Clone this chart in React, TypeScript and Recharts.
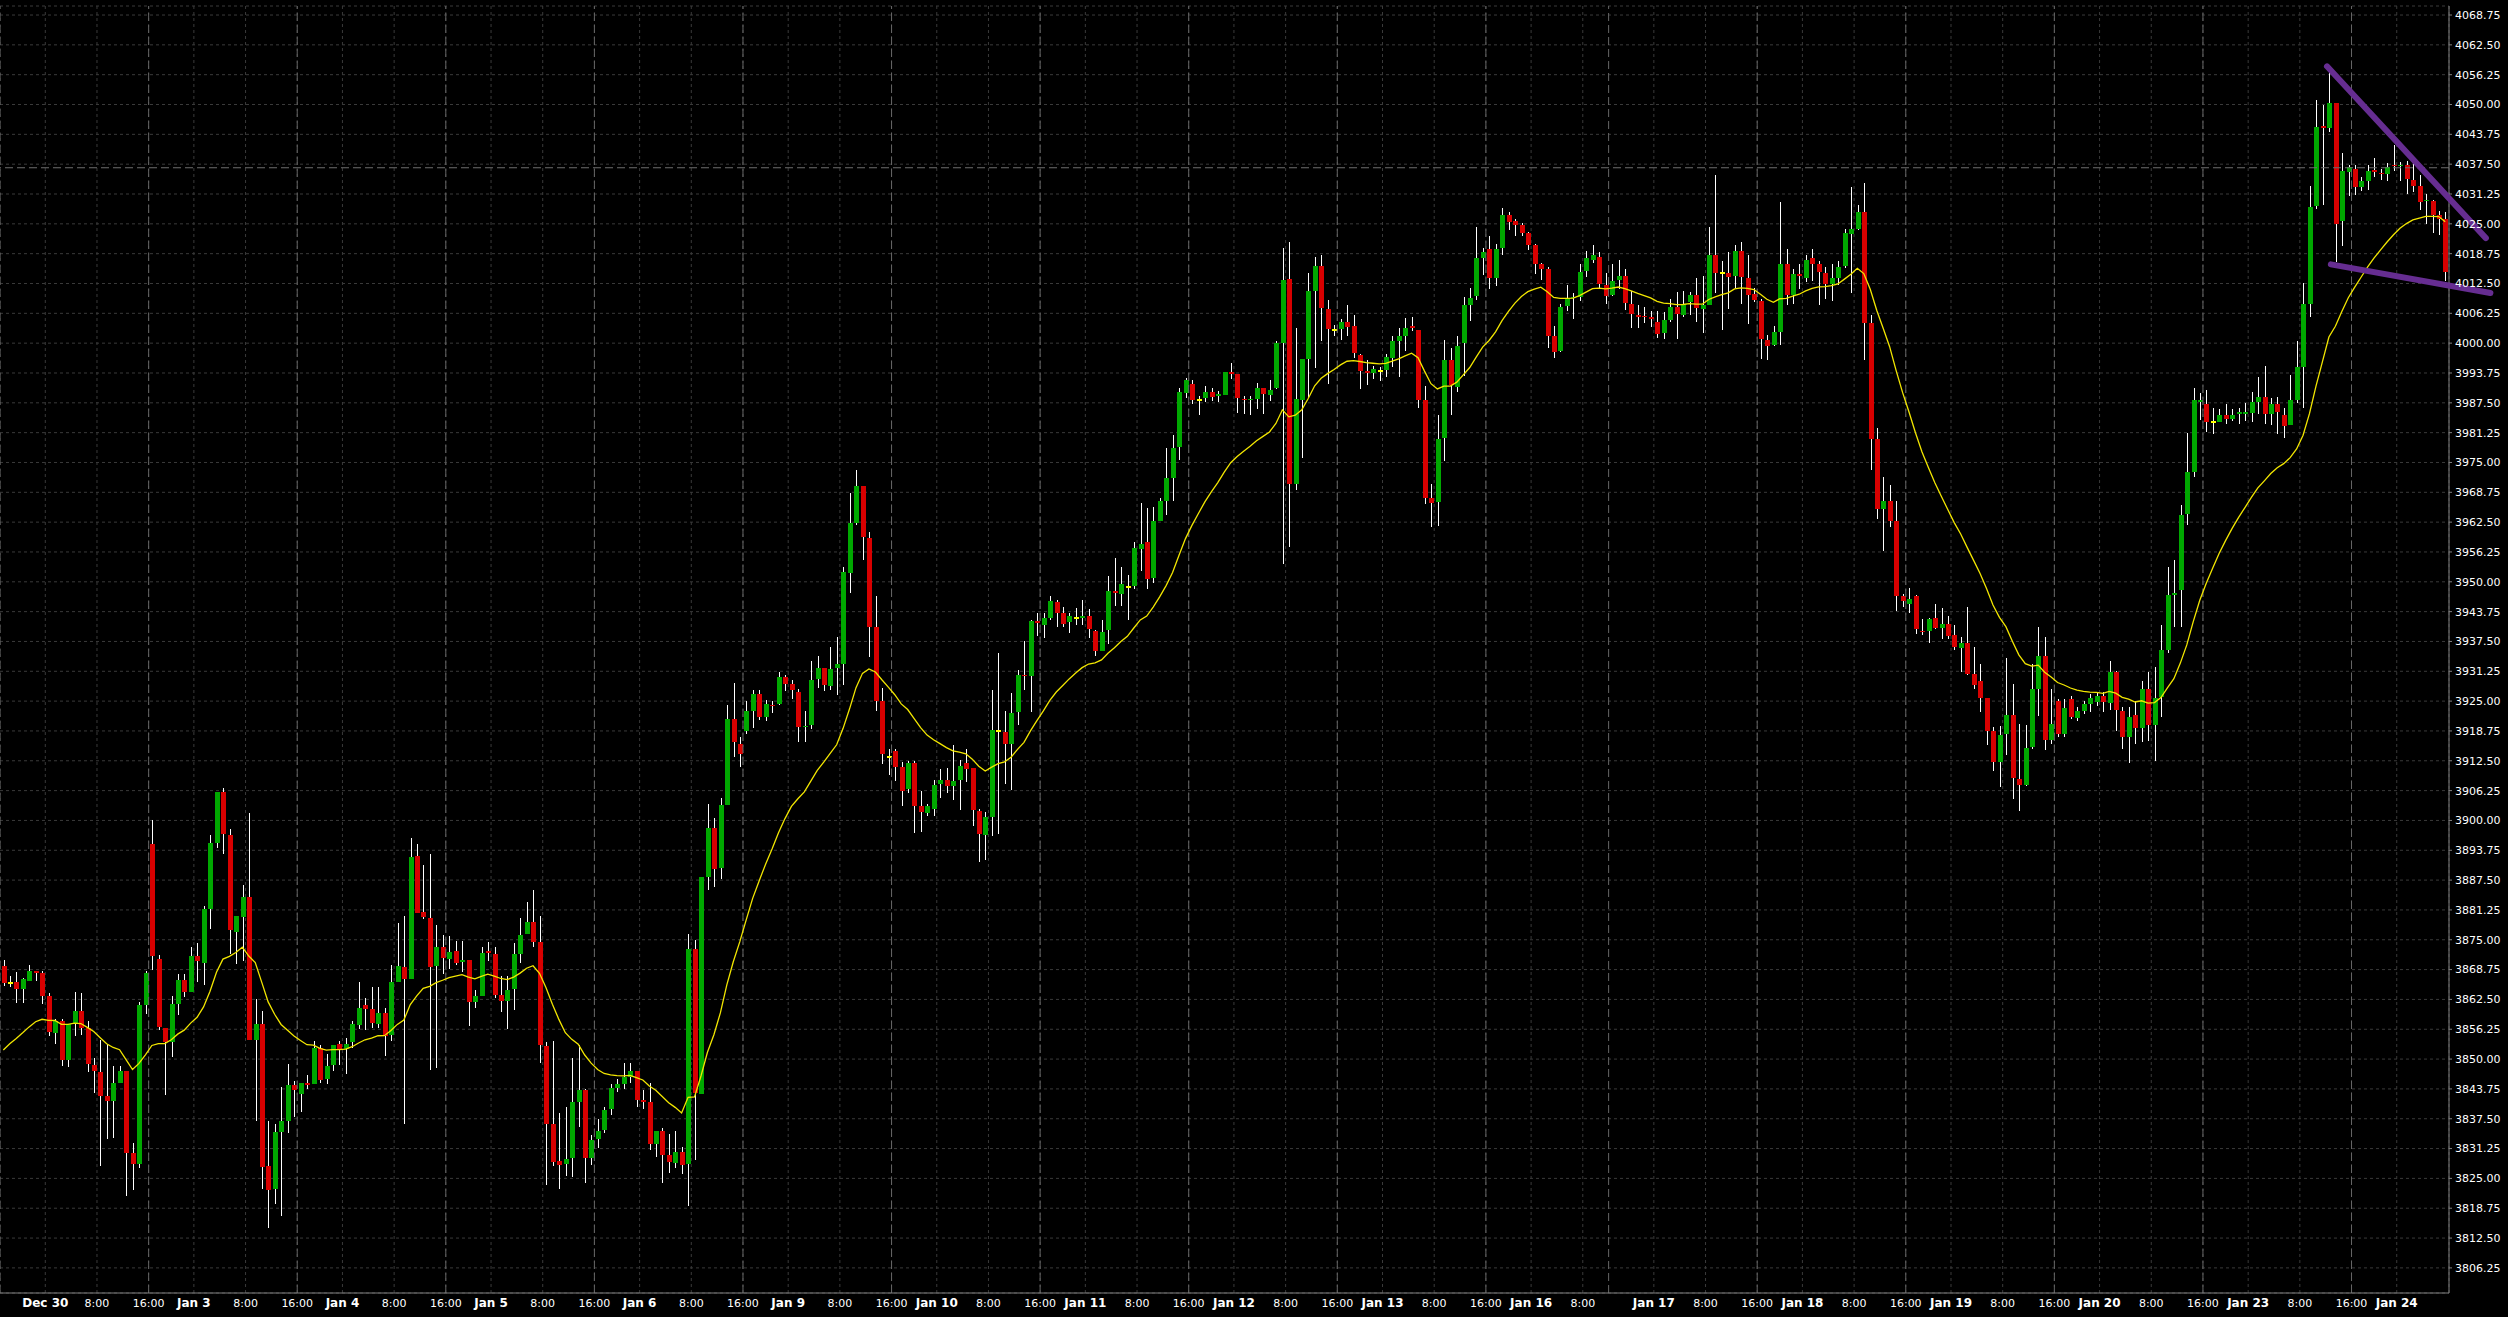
import { ComposedChart, Bar, Line, XAxis, YAxis, CartesianGrid, ReferenceLine } from "recharts";

// hourly bars, Dec 29 16:00 .. Jan 24 07:00 (379 bars)
const opens = [
  3869.5, 3866.0, 3866.25, 3864.75, 3866.5, 3868.5, 3868.0, 3863.25, 3855.5, 3858.0,
  3849.75, 3857.5, 3860.0, 3856.5, 3848.75, 3847.25, 3842.25, 3841.25, 3845.0, 3847.5,
  3830.25, 3828.0, 3861.25, 3895.0, 3871.0, 3856.5, 3853.5, 3861.5, 3866.5, 3864.0,
  3871.5, 3870.25, 3881.5, 3895.25, 3906.0, 3897.0, 3876.75, 3879.75, 3884.0, 3854.0,
  3857.25, 3827.5, 3822.75, 3834.75, 3837.0, 3844.5, 3842.75, 3845.0, 3844.75, 3852.25,
  3845.75, 3848.75, 3853.25, 3852.25, 3853.5, 3857.25, 3861.25, 3860.5, 3857.5, 3859.75,
  3855.25, 3866.25, 3869.25, 3866.75, 3892.5, 3880.75, 3879.5, 3869.5, 3873.5, 3871.0,
  3872.75, 3870.25, 3870.75, 3862.0, 3863.25, 3872.75, 3872.0, 3863.5, 3862.25, 3864.75,
  3872.0, 3876.25, 3878.75, 3874.5, 3852.75, 3836.5, 3828.75, 3828.0, 3829.25, 3841.0,
  3843.5, 3829.25, 3833.25, 3835.0, 3839.5, 3844.0, 3844.75, 3846.25, 3847.5, 3841.5,
  3841.0, 3832.25, 3835.0, 3830.0, 3828.25, 3830.5, 3828.0, 3873.0, 3842.75, 3888.25,
  3898.5, 3890.0, 3903.25, 3921.25, 3916.0, 3918.75, 3923.0, 3926.5, 3921.75, 3924.25,
  3924.25, 3930.0, 3928.5, 3927.0, 3919.5, 3920.0, 3929.75, 3932.0, 3928.25, 3932.0,
  3932.75, 3951.75, 3962.25, 3970.0, 3959.25, 3940.5, 3925.0, 3913.25, 3914.5, 3911.25,
  3906.5, 3912.0, 3903.0, 3901.5, 3902.5, 3907.75, 3908.5, 3907.25, 3908.5, 3912.0,
  3911.0, 3902.0, 3897.0, 3900.75, 3918.75, 3918.5, 3916.0, 3922.75, 3930.5, 3930.25,
  3941.75, 3941.0, 3942.5, 3945.75, 3943.5, 3941.5, 3942.5, 3942.25, 3942.75, 3939.75,
  3935.5, 3939.75, 3948.0, 3947.5, 3949.0, 3949.0, 3957.0, 3958.25, 3950.75, 3962.75,
  3967.0, 3971.75, 3978.25, 3989.5, 3991.5, 3988.0, 3988.5, 3989.75, 3988.75, 3989.25,
  3994.0, 3993.5, 3988.25, 3988.0, 3988.25, 3990.5, 3989.25, 3990.5, 4000.0, 4013.5,
  3970.5, 3988.25, 3996.75, 4011.0, 4016.25, 4007.25, 4002.75, 4003.0, 4004.5, 4003.5,
  3997.5, 3994.25, 3993.75, 3994.25, 3994.25, 3997.0, 4000.5, 4001.5, 4003.5, 4002.75,
  3988.0, 3967.5, 3966.75, 3980.25, 3996.5, 3991.0, 4000.0, 4008.0, 4009.75, 4017.75,
  4019.75, 4013.75, 4019.75, 4026.75, 4025.5, 4024.75, 4023.0, 4020.5, 4016.5, 4015.5,
  4001.5, 3998.25, 4007.75, 4009.5, 4009.75, 4015.0, 4017.5, 4018.0, 4012.25, 4010.0,
  4013.25, 4014.0, 4008.25, 4006.0, 4005.75, 4005.5, 4004.5, 4002.0, 4004.75, 4007.5,
  4006.0, 4008.5, 4010.0, 4007.25, 4008.0, 4018.5, 4014.75, 4014.75, 4014.0, 4019.25,
  4013.75, 4010.25, 4008.75, 4000.75, 3999.5, 4002.25, 4016.5, 4010.0, 4014.5, 4013.75,
  4017.75, 4016.5, 4014.75, 4012.5, 4013.75, 4016.0, 4023.0, 4024.0, 4027.5, 4004.25,
  3980.0, 3965.25, 3967.0, 3962.75, 3947.0, 3945.5, 3947.0, 3939.75, 3939.75, 3942.5,
  3940.5, 3941.25, 3938.75, 3936.25, 3937.25, 3930.75, 3929.25, 3925.75, 3918.75, 3912.25,
  3918.0, 3922.0, 3908.75, 3907.5, 3915.25, 3927.5, 3934.5, 3917.0, 3925.0, 3918.0,
  3925.5, 3921.5, 3923.0, 3924.5, 3924.75, 3926.0, 3924.5, 3931.0, 3923.0, 3917.5,
  3922.0, 3919.25, 3927.5, 3920.0, 3926.0, 3935.75, 3947.25, 3948.25, 3964.25, 3973.0,
  3987.5, 3987.25, 3983.5, 3983.5, 3985.0, 3984.25, 3985.0, 3985.0, 3985.5, 3987.75,
  3988.75, 3985.25, 3987.25, 3985.0, 3982.75, 3988.0, 3995.0, 4008.25, 4028.75, 4045.5,
  4045.0, 4050.25, 4025.5, 4036.0, 4036.5, 4032.75, 4034.0, 4036.25, 4035.75, 4035.5,
  4037.25, 4037.0, 4037.25, 4034.25, 4033.0, 4029.75, 4029.75, 4026.75, 4026.0,
];

const highs = [
  3870.75, 3867.5, 3868.25, 3867.0, 3869.75, 3868.5, 3868.5, 3863.75, 3858.5, 3858.5,
  3857.25, 3864.0, 3863.75, 3858.0, 3850.25, 3854.0, 3853.25, 3848.5, 3848.5, 3847.5,
  3832.5, 3862.0, 3868.5, 3900.0, 3871.75, 3856.5, 3863.25, 3867.75, 3867.75, 3873.5,
  3874.25, 3882.0, 3897.0, 3906.0, 3906.75, 3898.25, 3880.0, 3886.5, 3901.5, 3862.5,
  3860.0, 3837.0, 3836.5, 3844.25, 3849.0, 3845.5, 3845.0, 3846.75, 3853.75, 3853.0,
  3851.0, 3853.0, 3853.75, 3854.5, 3858.0, 3866.25, 3862.75, 3865.0, 3865.0, 3860.75,
  3869.75, 3878.5, 3880.0, 3896.25, 3895.0, 3890.75, 3893.0, 3878.0, 3876.0, 3875.75,
  3874.75, 3874.75, 3870.75, 3864.5, 3873.5, 3874.5, 3873.5, 3867.5, 3867.5, 3874.25,
  3879.5, 3883.0, 3885.5, 3880.0, 3853.5, 3853.75, 3838.75, 3840.0, 3850.25, 3853.0,
  3843.75, 3834.0, 3837.5, 3840.0, 3844.75, 3845.75, 3849.25, 3849.25, 3847.5, 3843.5,
  3845.0, 3835.0, 3835.5, 3834.25, 3835.0, 3831.5, 3876.25, 3875.0, 3888.25, 3903.5,
  3900.5, 3904.75, 3924.25, 3928.75, 3917.5, 3925.0, 3927.25, 3927.25, 3925.25, 3925.0,
  3931.0, 3930.5, 3929.5, 3927.5, 3923.0, 3933.5, 3934.5, 3932.0, 3936.25, 3938.5,
  3953.0, 3968.5, 3973.5, 3970.0, 3960.5, 3947.0, 3927.75, 3915.0, 3915.0, 3912.25,
  3912.5, 3912.5, 3906.25, 3903.5, 3908.5, 3910.75, 3911.0, 3915.75, 3912.75, 3915.0,
  3911.0, 3902.5, 3901.75, 3927.25, 3935.0, 3923.0, 3926.75, 3931.5, 3937.5, 3942.0,
  3943.5, 3943.5, 3947.0, 3946.25, 3944.75, 3943.5, 3944.5, 3946.25, 3944.25, 3940.0,
  3942.0, 3951.25, 3955.0, 3953.0, 3951.5, 3958.25, 3966.5, 3965.5, 3965.75, 3967.5,
  3978.0, 3980.75, 3990.5, 3992.75, 3992.25, 3989.0, 3991.0, 3990.5, 3990.0, 3994.0,
  3995.75, 3993.5, 3989.0, 3989.0, 3991.75, 3990.5, 3992.25, 4000.5, 4020.0, 4021.25,
  4003.25, 3996.75, 4014.75, 4018.0, 4018.5, 4009.0, 4003.75, 4005.0, 4008.0, 4006.0,
  3997.75, 3996.5, 3995.25, 3995.0, 3997.75, 4001.5, 4003.25, 4005.25, 4005.5, 4002.75,
  3991.0, 3970.5, 3985.0, 4000.75, 3999.0, 4001.5, 4009.75, 4011.5, 4024.25, 4020.0,
  4022.5, 4020.75, 4028.25, 4027.5, 4026.0, 4025.25, 4023.25, 4020.75, 4016.75, 4016.0,
  4003.5, 4008.25, 4012.25, 4010.5, 4016.5, 4019.25, 4020.5, 4019.0, 4014.75, 4016.5,
  4017.5, 4015.5, 4011.0, 4008.0, 4007.5, 4006.75, 4006.75, 4006.5, 4009.25, 4010.75,
  4011.0, 4010.75, 4013.75, 4014.0, 4024.25, 4035.25, 4017.25, 4019.0, 4020.5, 4021.25,
  4018.5, 4011.5, 4009.25, 4001.75, 4003.5, 4029.5, 4019.75, 4015.5, 4016.5, 4018.5,
  4019.75, 4017.25, 4016.0, 4016.5, 4017.25, 4024.0, 4032.75, 4029.0, 4033.5, 4006.0,
  3982.25, 3972.0, 3970.25, 3967.0, 3947.5, 3948.75, 3947.25, 3942.25, 3942.5, 3945.25,
  3944.5, 3942.75, 3941.0, 3938.5, 3944.75, 3936.25, 3932.75, 3925.75, 3919.5, 3919.75,
  3934.0, 3928.5, 3920.25, 3920.0, 3932.75, 3940.5, 3938.5, 3927.5, 3925.5, 3925.5,
  3926.0, 3923.75, 3925.0, 3926.5, 3927.0, 3927.0, 3933.5, 3931.25, 3923.75, 3923.75,
  3925.0, 3929.25, 3931.0, 3932.25, 3941.0, 3953.0, 3954.5, 3966.0, 3981.25, 3990.5,
  3989.5, 3990.25, 3986.5, 3986.25, 3987.25, 3986.25, 3986.5, 3987.5, 3989.75, 3993.0,
  3995.25, 3988.5, 3988.75, 3986.5, 3993.25, 4000.5, 4012.5, 4033.0, 4051.0, 4050.0,
  4056.75, 4050.25, 4039.75, 4037.25, 4037.25, 4034.75, 4037.25, 4038.75, 4036.5, 4037.75,
  4041.5, 4038.0, 4038.25, 4038.25, 4035.25, 4031.25, 4030.0, 4027.75, 4027.5,
];

const lows = [
  3865.25, 3865.25, 3861.75, 3861.75, 3866.5, 3866.5, 3861.5, 3854.75, 3853.25, 3848.75,
  3848.25, 3854.75, 3855.0, 3847.25, 3843.0, 3827.5, 3833.25, 3833.5, 3845.0, 3821.25,
  3822.75, 3827.25, 3859.5, 3868.5, 3856.0, 3842.5, 3850.5, 3859.25, 3863.0, 3864.0,
  3866.0, 3865.5, 3877.25, 3894.25, 3893.0, 3872.0, 3870.0, 3870.5, 3854.0, 3837.0,
  3822.75, 3814.5, 3819.75, 3817.25, 3834.5, 3838.0, 3839.0, 3843.75, 3844.75, 3845.0,
  3844.75, 3847.5, 3848.75, 3847.0, 3852.25, 3856.5, 3856.0, 3856.5, 3856.5, 3850.75,
  3853.75, 3866.25, 3836.5, 3866.75, 3880.5, 3879.5, 3847.75, 3848.0, 3867.75, 3868.75,
  3869.75, 3868.25, 3857.0, 3860.75, 3863.25, 3870.5, 3862.75, 3860.0, 3856.5, 3860.25,
  3870.0, 3876.25, 3873.5, 3849.25, 3823.5, 3827.5, 3822.75, 3825.5, 3825.25, 3835.75,
  3824.0, 3827.75, 3831.5, 3834.5, 3838.25, 3843.0, 3843.75, 3845.0, 3840.0, 3839.5,
  3831.0, 3829.5, 3824.0, 3826.0, 3827.25, 3825.75, 3819.25, 3829.0, 3842.75, 3885.5,
  3886.0, 3887.75, 3903.25, 3913.25, 3911.25, 3918.0, 3919.25, 3921.0, 3920.75, 3922.5,
  3924.0, 3927.25, 3925.5, 3916.5, 3916.5, 3919.25, 3927.75, 3927.25, 3927.25, 3926.25,
  3928.25, 3947.5, 3962.0, 3954.5, 3934.25, 3923.0, 3911.75, 3909.5, 3908.25, 3903.0,
  3905.75, 3897.5, 3897.75, 3901.0, 3901.0, 3904.75, 3905.75, 3904.25, 3902.25, 3908.0,
  3898.75, 3891.5, 3891.75, 3896.75, 3897.0, 3907.75, 3906.5, 3920.0, 3927.25, 3922.75,
  3938.75, 3938.25, 3942.0, 3940.5, 3940.5, 3939.25, 3941.0, 3941.0, 3938.25, 3934.5,
  3935.5, 3937.0, 3945.0, 3944.75, 3942.0, 3948.5, 3952.25, 3948.5, 3949.75, 3962.75,
  3964.0, 3967.0, 3975.5, 3988.5, 3987.25, 3985.0, 3987.75, 3987.75, 3987.75, 3989.25,
  3992.5, 3985.25, 3985.25, 3985.0, 3986.25, 3985.0, 3987.75, 3990.5, 3953.75, 3957.25,
  3969.25, 3976.0, 3988.5, 3994.75, 4000.5, 3991.5, 4001.5, 4000.5, 4001.5, 3997.0,
  3990.5, 3991.25, 3992.5, 3992.0, 3993.0, 3995.0, 3993.0, 3998.25, 4002.5, 3986.5,
  3966.25, 3961.5, 3961.75, 3975.5, 3985.0, 3989.75, 3993.25, 4004.5, 4009.0, 4014.25,
  4011.5, 4012.0, 4018.5, 4023.75, 4022.5, 4022.5, 4019.5, 4014.5, 4013.25, 3999.0,
  3996.75, 3998.25, 4006.75, 4005.0, 4008.75, 4013.75, 4016.75, 4011.5, 4008.25, 4009.75,
  4011.5, 4007.0, 4003.25, 4003.25, 4004.25, 4003.5, 4001.0, 4000.75, 4004.5, 4001.0,
  4005.5, 4006.0, 4004.5, 4002.0, 4008.0, 4010.5, 4002.75, 4007.0, 4011.5, 4008.25,
  4004.0, 4008.5, 3996.75, 3996.5, 3999.25, 3999.5, 4008.0, 4008.25, 4011.25, 4012.75,
  4013.0, 4008.0, 4009.25, 4008.75, 4012.25, 4015.75, 4010.5, 4023.75, 3996.5, 3973.5,
  3963.25, 3956.5, 3961.5, 3944.0, 3944.75, 3943.5, 3939.0, 3939.0, 3937.25, 3940.0,
  3938.0, 3938.0, 3935.75, 3931.25, 3930.5, 3927.5, 3922.75, 3916.0, 3910.25, 3907.0,
  3913.75, 3904.5, 3902.0, 3907.25, 3915.0, 3921.75, 3914.75, 3916.0, 3917.5, 3917.5,
  3921.25, 3920.75, 3922.25, 3922.75, 3924.0, 3922.75, 3923.25, 3918.75, 3915.0, 3912.0,
  3916.0, 3916.5, 3916.5, 3912.5, 3921.75, 3935.0, 3940.5, 3940.5, 3962.0, 3971.75,
  3983.75, 3981.5, 3981.0, 3983.5, 3983.0, 3983.75, 3983.25, 3983.75, 3983.5, 3985.25,
  3983.0, 3982.75, 3981.0, 3980.25, 3982.75, 3987.5, 3986.25, 4005.5, 4028.25, 4029.0,
  4044.25, 4017.0, 4020.25, 4030.75, 4031.0, 4031.75, 4032.0, 4034.75, 4034.25, 4034.0,
  4036.0, 4034.0, 4031.25, 4031.75, 4028.0, 4025.0, 4023.0, 4022.75, 4013.0,
];

const closes = [
  3866.0, 3866.0, 3864.75, 3866.75, 3868.5, 3868.0, 3863.25, 3855.75, 3858.0, 3849.75,
  3857.25, 3860.0, 3856.5, 3849.0, 3847.5, 3842.25, 3841.25, 3845.0, 3847.5, 3830.25,
  3828.0, 3861.25, 3868.0, 3871.5, 3856.75, 3853.5, 3861.5, 3866.5, 3864.0, 3871.5,
  3870.5, 3881.5, 3895.25, 3906.0, 3897.25, 3877.0, 3880.0, 3884.0, 3854.0, 3857.25,
  3827.25, 3822.5, 3834.75, 3837.0, 3844.5, 3843.5, 3845.0, 3844.5, 3852.25, 3845.5,
  3848.5, 3853.0, 3852.0, 3853.25, 3857.25, 3860.75, 3860.5, 3857.5, 3859.75, 3855.0,
  3866.25, 3869.5, 3866.75, 3892.25, 3880.5, 3879.75, 3869.25, 3873.5, 3871.25, 3872.5,
  3870.25, 3870.75, 3862.0, 3863.25, 3872.25, 3872.25, 3863.5, 3862.25, 3864.5, 3872.0,
  3876.0, 3878.75, 3874.5, 3853.0, 3836.5, 3828.5, 3828.0, 3829.0, 3841.0, 3843.5,
  3829.25, 3833.0, 3835.0, 3839.25, 3844.0, 3844.75, 3846.25, 3847.5, 3841.5, 3841.0,
  3832.25, 3835.0, 3830.0, 3828.5, 3830.5, 3827.75, 3873.0, 3842.75, 3888.25, 3898.5,
  3890.0, 3903.25, 3921.25, 3916.5, 3914.0, 3923.0, 3926.5, 3921.75, 3924.5, 3924.0,
  3930.0, 3928.5, 3927.25, 3919.75, 3919.75, 3929.5, 3932.0, 3928.5, 3931.75, 3932.75,
  3952.0, 3962.25, 3970.0, 3959.25, 3940.5, 3925.0, 3914.0, 3913.25, 3911.25, 3906.25,
  3912.0, 3903.0, 3901.75, 3903.0, 3907.5, 3908.5, 3907.25, 3908.25, 3911.5, 3910.75,
  3902.25, 3897.25, 3900.75, 3919.0, 3918.75, 3916.0, 3922.5, 3930.5, 3930.25, 3941.75,
  3941.25, 3942.5, 3946.0, 3943.5, 3941.25, 3942.75, 3942.5, 3942.75, 3940.0, 3935.5,
  3939.5, 3948.0, 3947.5, 3949.5, 3949.0, 3957.0, 3958.0, 3950.5, 3962.75, 3967.0,
  3971.75, 3978.0, 3989.75, 3992.25, 3988.25, 3988.0, 3989.75, 3988.75, 3989.25, 3994.0,
  3993.5, 3988.5, 3988.0, 3988.25, 3990.5, 3989.25, 3990.25, 4000.0, 4013.25, 3970.5,
  3988.25, 3996.75, 4011.0, 4016.25, 4007.5, 4003.0, 4002.75, 4004.5, 4003.5, 3997.75,
  3994.25, 3993.75, 3994.5, 3994.25, 3997.0, 4000.5, 4001.5, 4003.25, 4003.0, 3988.0,
  3967.5, 3966.5, 3980.0, 3996.5, 3991.25, 3999.5, 4008.0, 4009.5, 4017.75, 4019.0,
  4013.75, 4019.75, 4026.75, 4025.25, 4024.75, 4023.0, 4020.5, 4016.5, 4015.5, 4001.5,
  3998.25, 4007.5, 4009.5, 4009.75, 4015.0, 4017.75, 4018.5, 4012.25, 4010.0, 4013.0,
  4014.0, 4008.25, 4006.25, 4005.5, 4005.5, 4005.0, 4002.0, 4004.75, 4007.5, 4006.0,
  4008.25, 4010.0, 4007.25, 4008.0, 4018.5, 4014.75, 4014.75, 4014.0, 4019.25, 4013.75,
  4010.25, 4009.0, 4000.75, 3999.5, 4002.25, 4016.5, 4010.0, 4014.5, 4014.0, 4017.5,
  4016.5, 4014.75, 4012.5, 4013.75, 4016.0, 4023.0, 4024.0, 4027.5, 4004.25, 3980.0,
  3965.25, 3967.0, 3962.75, 3947.0, 3946.0, 3946.5, 3940.0, 3939.5, 3942.25, 3940.5,
  3941.25, 3938.75, 3936.25, 3937.25, 3930.75, 3928.5, 3925.75, 3918.75, 3912.25, 3918.0,
  3922.0, 3908.75, 3907.5, 3915.25, 3927.5, 3934.5, 3917.0, 3920.25, 3918.0, 3923.5,
  3921.75, 3923.0, 3924.5, 3925.75, 3926.0, 3924.75, 3931.0, 3923.0, 3917.5, 3921.75,
  3919.25, 3927.5, 3920.0, 3925.75, 3935.75, 3947.25, 3947.75, 3964.0, 3973.0, 3988.0,
  3988.0, 3983.5, 3983.5, 3985.0, 3984.25, 3985.0, 3985.5, 3985.5, 3987.75, 3988.75,
  3985.25, 3987.25, 3985.5, 3982.75, 3988.0, 3995.0, 4008.25, 4028.5, 4045.25, 4045.0,
  4050.25, 4025.0, 4036.0, 4037.0, 4032.75, 4034.0, 4036.0, 4035.75, 4035.5, 4037.0,
  4037.0, 4037.25, 4034.25, 4033.0, 4029.75, 4030.0, 4026.75, 4026.0, 4015.0,
];

// first bar of each calendar day and its label
const dayLabels = [
  "Dec 30", "Jan 3", "Jan 4", "Jan 5", "Jan 6", "Jan 9", "Jan 10", "Jan 11", "Jan 12",
  "Jan 13", "Jan 16", "Jan 17", "Jan 18", "Jan 19", "Jan 20", "Jan 23", "Jan 24",
];
const dayStarts = [7, 30, 53, 76, 99, 122, 145, 168, 191, 214, 237, 256, 279, 302, 325, 348, 371];
const eightBars = [15, 38, 61, 84, 107, 130, 153, 176, 199, 222, 245, 264, 287, 310, 333, 356];
const sixteenBars = [23, 46, 69, 92, 115, 138, 161, 184, 207, 230, 272, 295, 318, 341, 364];
// first bar of each trading session (period separators)
const sessionStarts = [0, 23, 46, 69, 92, 115, 138, 161, 184, 207, 230, 249, 272, 295, 318, 341, 364];

const yTicks = Array.from({ length: 43 }, (_, k) => 3806.25 + 6.25 * k);
const hLineLevel = 4036.75;
const upperTrend = [{ x: 359.7, y: 4058.0 }, { x: 384.3, y: 4022.0 }];
const lowerTrend = [{ x: 360.3, y: 4016.5 }, { x: 385.0, y: 4010.5 }];

// moving average of the closes (20-period EMA, as on the original chart)
const EMA_PERIOD = 20;
const EMA_START = 3850.4;
const alpha = 2 / (EMA_PERIOD + 1);
let prevEma = EMA_START;
const ema = closes.map((c) => (prevEma = prevEma + alpha * (c - prevEma)));

const data = opens.map((o, i) => ({
  i,
  open: o,
  high: highs[i],
  low: lows[i],
  close: closes[i],
  range: [lows[i], highs[i]],
  ema: ema[i],
}));

const tickLabels = new Map<number, { text: string; bold: boolean }>();
dayStarts.forEach((d, k) => tickLabels.set(d - 0.5, { text: dayLabels[k], bold: true }));
eightBars.forEach((b) => tickLabels.set(b - 0.5, { text: "8:00", bold: false }));
sixteenBars.forEach((b) => tickLabels.set(b - 0.5, { text: "16:00", bold: false }));
const xTicks = Array.from(tickLabels.keys()).sort((a, b) => a - b);

const W = 2508;
const H = 1317;

function Candle(props: any) {
  const { x, y, width, height, payload } = props;
  if (!payload) return null;
  const { open, close, high, low } = payload;
  const top = Math.min(y, y + height);
  const h = Math.abs(height);
  const span = high - low;
  const toY = (v: number) => (span === 0 ? top : top + ((high - v) / span) * h);
  const cx = Math.round(x + width / 2);
  const yo = toY(open);
  const yc = toY(close);
  const doji = open === close;
  const color = doji ? "#ffff00" : close > open ? "#00a800" : "#d80000";
  const bodyTop = Math.round(Math.min(yo, yc));
  const bodyH = doji ? 2 : Math.max(1, Math.round(Math.abs(yc - yo)));
  return (
    <g shapeRendering="crispEdges">
      <rect x={cx} y={Math.round(top)} width={1} height={Math.max(1, Math.round(h))} fill="#ffffff" />
      <rect x={cx - 2} y={doji ? bodyTop - 1 : bodyTop} width={5} height={bodyH} fill={color} />
    </g>
  );
}

function TimeTick(props: any) {
  const { x, y, payload } = props;
  const lab = tickLabels.get(payload.value);
  if (!lab) return null;
  return (
    <text
      x={x}
      y={y + 10}
      textAnchor="middle"
      dominantBaseline="central"
      fill="#ffffff"
      fontSize={lab.bold ? 12 : 11}
      fontWeight={lab.bold ? "bold" : "normal"}
      fontFamily="DejaVu Sans"
    >
      {lab.text}
    </text>
  );
}

export default function App() {
  return (
    <div style={{ position: "fixed", left: 0, top: 0, width: W, height: H, background: "#000000" }}>
      <ComposedChart
        width={W}
        height={H}
        data={data}
        margin={{ top: 6, right: 0, bottom: 0, left: 0 }}
        style={{ background: "#000000" }}
      >
        <CartesianGrid stroke="#3a3a3a" strokeDasharray="3 3" />
        <XAxis
          type="number"
          dataKey="i"
          domain={[-0.5108, 378.59]}
          allowDataOverflow
          ticks={xTicks}
          interval={0}
          height={24}
          tickLine={false}
          tickSize={0}
          tickMargin={0}
          axisLine={{ stroke: "#808080" }}
          tick={(p: any) => <TimeTick {...p} />}
        />
        <YAxis
          type="number"
          orientation="right"
          width={59}
          domain={[3800.99, 4070.64]}
          allowDataOverflow
          ticks={yTicks}
          interval={0}
          tickSize={3}
          tickMargin={3}
          tickLine={{ stroke: "#808080" }}
          axisLine={{ stroke: "#808080" }}
          tick={{ fill: "#ffffff", fontSize: 11, fontFamily: "DejaVu Sans" }}
          tickFormatter={(v: number) => v.toFixed(2)}
        />
        {sessionStarts.map((s) => (
          <ReferenceLine key={s} x={s - 0.5} stroke="#666666" strokeDasharray="8 4" ifOverflow="visible" />
        ))}
        <ReferenceLine y={hLineLevel} stroke="#6e6e6e" strokeDasharray="8 4" />
        <Bar dataKey="range" barSize={5} isAnimationActive={false} shape={(p: any) => <Candle {...p} />} />
        <Line
          type="linear"
          dataKey="ema"
          stroke="#f2e600"
          strokeWidth={1.3}
          dot={false}
          activeDot={false}
          isAnimationActive={false}
        />
        <ReferenceLine
          segment={upperTrend}
          stroke="#662d91"
          strokeWidth={6}
          strokeLinecap="round"
          ifOverflow="visible"
          zIndex={1000}
        />
        <ReferenceLine
          segment={lowerTrend}
          stroke="#662d91"
          strokeWidth={6}
          strokeLinecap="round"
          ifOverflow="visible"
          zIndex={1000}
        />
      </ComposedChart>
    </div>
  );
}
